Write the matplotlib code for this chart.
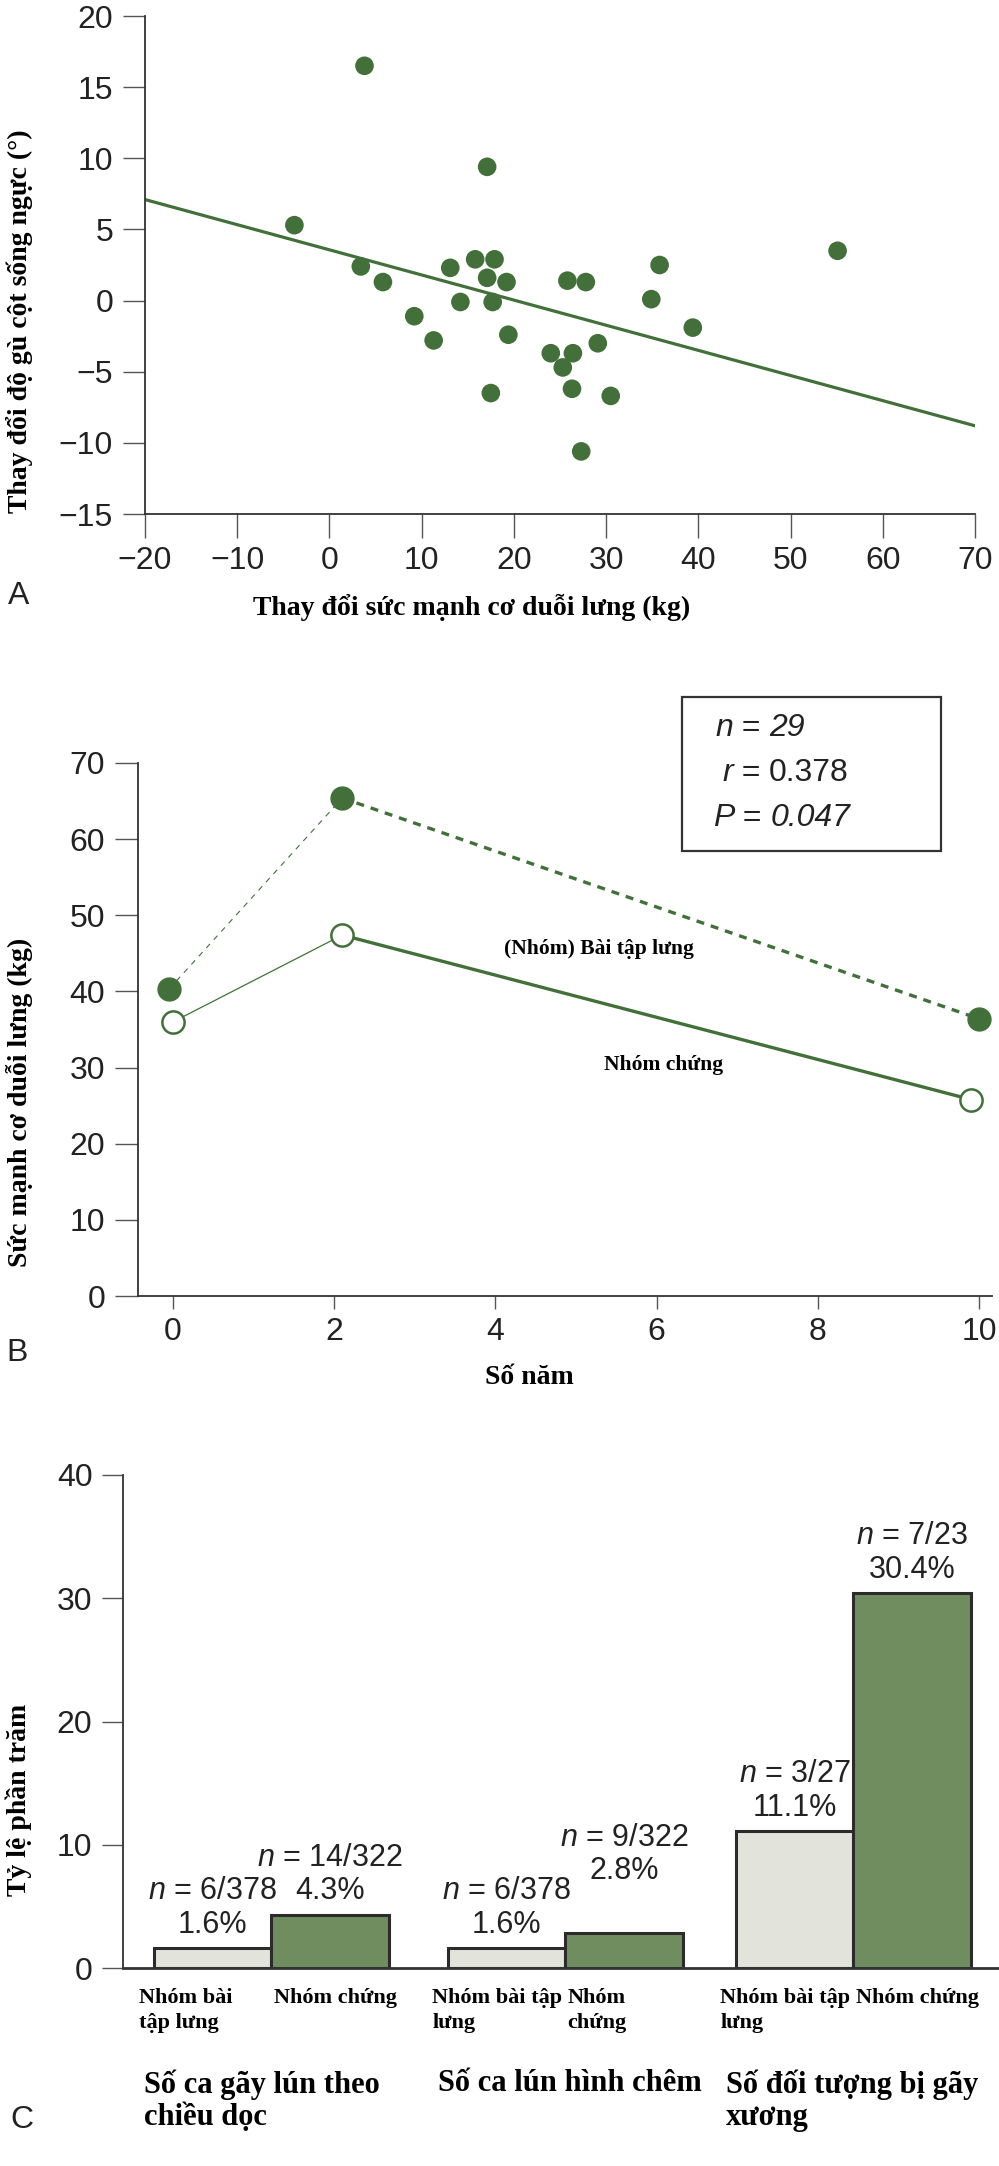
import numpy as np
import matplotlib
matplotlib.use('Agg')
import matplotlib.pyplot as plt
from matplotlib.patches import Rectangle

plt.rcParams['font.family'] = ['Liberation Sans', 'DejaVu Sans']
plt.rcParams['mathtext.fontset'] = 'custom'
plt.rcParams['mathtext.rm'] = 'Liberation Sans'
plt.rcParams['mathtext.it'] = 'Liberation Sans:italic'

# ---- data ----
# panel A: change in back extensor strength vs change in kyphosis
a_strength = [3.8, 17.1, -3.8, 55.1, 3.4, 5.8, 13.1, 15.8, 17.9, 17.1, 19.2, 14.2, 17.7, 9.2,
              11.3, 19.4, 25.8, 27.8, 35.8, 34.9, 39.4, 24.0, 26.4, 25.3, 29.1, 26.3, 17.5, 30.5, 27.3]
a_kyphosis = [16.5, 9.4, 5.3, 3.5, 2.4, 1.3, 2.3, 2.9, 2.9, 1.6, 1.3, -0.1, -0.1, -1.1,
              -2.8, -2.4, 1.4, 1.3, 2.5, 0.1, -1.9, -3.7, -3.7, -4.7, -3.0, -6.2, -6.5, -6.7, -10.6]
fit_x = [-20, 70]
fit_y = [7.1, -8.8]

# panel B: back extensor strength over years
ex_years = [-0.05, 2.1, 10.0]
ex_strength = [40.3, 65.4, 36.4]
ctrl_years = [0.0, 2.1, 9.9]
ctrl_strength = [36.0, 47.4, 25.8]
# (text, italic?) pieces of the stats box
stats_lines = [[('n', 'italic'), (' = ', 'normal'), ('29', 'italic')],
               [('r', 'italic'), (' = ', 'normal'), ('0.378', 'normal')],
               [('P', 'italic'), (' = ', 'normal'), ('0.047', 'italic')]]

# panel C: fracture percentages
categories = ['Số ca gãy lún theo\nchiều dọc', 'Số ca lún hình chêm', 'Số đối tượng bị gãy\nxương']
ex_labels = ['Nhóm bài\ntập lưng', 'Nhóm bài tập\nlưng', 'Nhóm bài tập\nlưng']
ctrl_labels = ['Nhóm chứng', 'Nhóm\nchứng', 'Nhóm chứng']
ex_pct = [1.6, 1.6, 11.1]
ctrl_pct = [4.3, 2.8, 30.4]
ex_n = ['6/378', '6/378', '3/27']
ctrl_n = ['14/322', '9/322', '7/23']

green = '#43703a'
bar_green = '#6f8d5f'
bar_light = '#e2e4dc'
tick_col = '#555555'
spine_col = '#333333'
serif = ['Liberation Serif', 'DejaVu Serif']

W, H = 999, 2166
fig = plt.figure(figsize=(W / 100, H / 100), dpi=100)


def style(ax, xlen, ylen):
    for s in ['top', 'right']:
        ax.spines[s].set_visible(False)
    for s in ['left', 'bottom']:
        ax.spines[s].set_color(spine_col)
        ax.spines[s].set_linewidth(1.3)
    ax.tick_params(axis='both', direction='out', width=1.0, color=tick_col,
                   labelsize=23, labelcolor='#222222')
    ax.tick_params(axis='x', length=xlen, pad=6)
    ax.tick_params(axis='y', length=ylen, pad=7)


# ---- panel A ----
ax1 = fig.add_axes([145 / W, 1 - 514 / H, 830 / W, 498 / H])
ax1.plot(fit_x, fit_y, color=green, lw=2.3, zorder=2)
ax1.scatter(a_strength, a_kyphosis, s=180, color=green, edgecolors='none', zorder=3)
ax1.set_xlim(-20, 70)
ax1.set_ylim(-15, 20)
ax1.set_xticks(np.arange(-20, 71, 10))
ax1.set_yticks(np.arange(-15, 21, 5))
style(ax1, 17, 16)
fig.text(472 / W, 1 - 607 / H, 'Thay đổi sức mạnh cơ duỗi lưng (kg)', family=serif,
         weight='bold', fontsize=20, ha='center', va='center')
fig.text(19 / W, 1 - 321 / H, 'Thay đổi độ gù cột sống ngực (°)', family=serif,
         weight='bold', fontsize=20, ha='center', va='center', rotation=90)
fig.text(19 / W, 1 - 596 / H, 'A', fontsize=23, color='#222222', ha='center', va='center')

# ---- panel B ----
ax2 = fig.add_axes([138 / W, 1 - 1296 / H, 854 / W, 533 / H])
ax2.plot(ex_years[:2], ex_strength[:2], color=green, lw=0.8, dashes=(5, 5), zorder=2)
ax2.plot(ex_years[1:], ex_strength[1:], color=green, lw=2.4, dashes=(2.4, 2.1), zorder=2)
ax2.plot(ctrl_years[:2], ctrl_strength[:2], color=green, lw=0.9, zorder=2)
ax2.plot(ctrl_years[1:], ctrl_strength[1:], color=green, lw=2.4, zorder=2)
ax2.plot(ex_years, ex_strength, 'o', ms=16.5, color=green, mec=green, zorder=3, clip_on=False)
ax2.plot(ctrl_years, ctrl_strength, 'o', ms=16, mfc='white', mec=green, mew=1.8, zorder=3,
         clip_on=False)
ax2.set_xlim(-0.434, 10.16)
ax2.set_ylim(0, 70)
ax2.set_xticks(np.arange(0, 11, 2))
ax2.set_yticks(np.arange(0, 71, 10))
style(ax2, 9, 16.5)
ax2.text(5.29, 45.6, '(Nhóm) Bài tập lưng', family=serif, weight='bold', fontsize=15.5,
         ha='center', va='center')
ax2.text(6.08, 30.4, 'Nhóm chứng', family=serif, weight='bold', fontsize=15.5,
         ha='center', va='center')
fig.add_artist(Rectangle((682 / W, 1 - 851 / H), 259 / W, 154 / H, transform=fig.transFigure,
                         fill=False, ec=spine_col, lw=1.6))
# stats box text, built piece by piece so only some parts are italic
for line, xp, yp in zip(stats_lines, [715, 722, 713], [736, 781, 826]):
    prev = None
    for s, st in line:
        if prev is None:
            prev = ax2.annotate(s, xy=(xp / W, 1 - yp / H), xycoords='figure fraction',
                                fontsize=23, style=st, color='#222222', ha='left',
                                va='baseline', annotation_clip=False)
        else:
            prev = ax2.annotate(s, xy=(1, 0), xycoords=prev, fontsize=23, style=st,
                                color='#222222', ha='left', va='bottom',
                                annotation_clip=False)
fig.text(529 / W, 1 - 1377 / H, 'Số năm', family=serif, weight='bold', fontsize=20,
         ha='center', va='center')
fig.text(19 / W, 1 - 1102 / H, 'Sức mạnh cơ duỗi lưng (kg)', family=serif,
         weight='bold', fontsize=20, ha='center', va='center', rotation=90)
fig.text(17 / W, 1 - 1353 / H, 'B', fontsize=23, color='#222222', ha='center', va='center')

# ---- panel C ----
ax3 = fig.add_axes([123 / W, 1 - 1968 / H, 876 / W, 493 / H])
group_x = np.array([0, 2.5, 4.95])
ax3.bar(group_x, ex_pct, width=1.0, color=bar_light, edgecolor='#2b2b2b', lw=2.2, zorder=2)
ax3.bar(group_x + 1, ctrl_pct, width=1.0, color=bar_green, edgecolor='#2b2b2b', lw=2.2, zorder=2)
ax3.set_xlim(-0.762, 6.69)
ax3.set_ylim(0, 40)
ax3.set_xticks([])
ax3.set_yticks(np.arange(0, 41, 10))
style(ax3, 15, 15)
ax3.spines['bottom'].set_linewidth(2.0)
lift = [0, 0, 0], [0, 28, 0]
for xs, pcts, ns, lf in [(group_x, ex_pct, ex_n, lift[0]), (group_x + 1, ctrl_pct, ctrl_n, lift[1])]:
    for x, p, n, l in zip(xs, pcts, ns, lf):
        ax3.annotate(f'{p}%', (x, p), xytext=(0, 17 + l), textcoords='offset points',
                     ha='center', va='center', fontsize=22, color='#222222')
        ax3.annotate(f'$n$ = {n}', (x, p), xytext=(0, 41 + l), textcoords='offset points',
                     ha='center', va='center', fontsize=22, color='#222222')
tr = ax3.get_xaxis_transform()
for x, lab in zip(group_x - 0.5 - 0.13, ex_labels):
    ax3.text(x, -0.04, lab, transform=tr, family=serif, weight='bold', fontsize=16,
             ha='left', va='top', linespacing=1.35)
for x, lab in zip(group_x + 0.5 + 0.02, ctrl_labels):
    ax3.text(x, -0.04, lab, transform=tr, family=serif, weight='bold', fontsize=16,
             ha='left', va='top', linespacing=1.35)
for x, lab in zip(group_x - 0.5 - 0.08, categories):
    ax3.text(x, -0.205, lab, transform=tr, family=serif, weight='bold', fontsize=22,
             ha='left', va='top', linespacing=1.15)
fig.text(19 / W, 1 - 1800 / H, 'Tỷ lệ phần trăm', family=serif, weight='bold', fontsize=20,
         ha='center', va='center', rotation=90)
fig.text(22 / W, 1 - 2120 / H, 'C', fontsize=23, color='#222222', ha='center', va='center')

fig.savefig('out.png', dpi=100)
